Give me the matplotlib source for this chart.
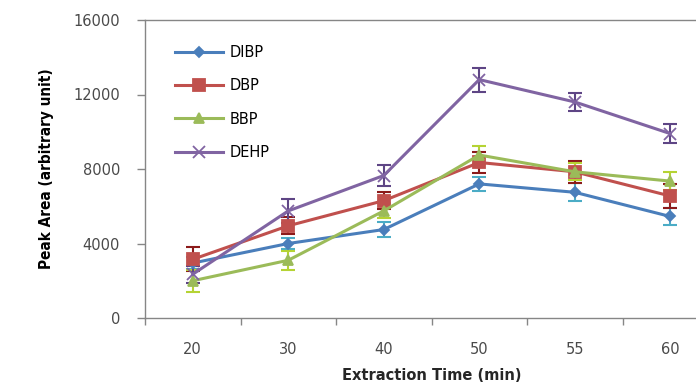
import matplotlib.pyplot as plt
import numpy as np

times = ["20", "30", "40", "50", "55", "60"]
dibp = [2950, 4000, 4750, 7200, 6750, 5450]
dibp_err = [300, 300, 380, 380, 480, 460]
dbp = [3150, 4950, 6300, 8350, 7850, 6550]
dbp_err = [650, 450, 450, 550, 600, 650]
bbp = [2000, 3100, 5750, 8750, 7850, 7350]
bbp_err = [600, 520, 400, 480, 450, 470]
dehp = [2350, 5750, 7650, 12800, 11600, 9900]
dehp_err = [450, 640, 540, 640, 480, 530]

series = [
    ("DIBP", dibp, dibp_err, "#4A7EBB", "#4BACC6", "D", 5),
    ("DBP", dbp, dbp_err, "#C0504D", "#8B1A1A", "s", 8),
    ("BBP", bbp, bbp_err, "#9BBB59", "#B5D334", "^", 7),
    ("DEHP", dehp, dehp_err, "#8064A2", "#5E4585", "x", 8),
]

fig = plt.figure(figsize=(6.96, 3.87), dpi=100)
ax = fig.add_axes([145 / 696, 69 / 387, 573 / 696, 298 / 387])
x = np.arange(len(times))

for name, vals, err, col, ecol, mk, ms in series:
    ax.errorbar(x, vals, yerr=err, fmt="none", ecolor=ecol, elinewidth=1.5,
                capsize=5, capthick=1.5, zorder=2)
    ax.plot(x, vals, color=col, lw=2.2, marker=mk, ms=ms, mfc=col, mec=col,
            mew=1.3, label=name, zorder=3)

ax.set_xlim(-0.5, len(times) - 0.5)
ax.set_ylim(0, 16000)
ax.set_yticks([0, 4000, 8000, 12000, 16000])
ax.set_xticks(x)
ax.set_xticklabels(times)
ax.set_xticks(np.arange(-0.5, len(times), 1), minor=True)
ax.tick_params(axis="x", which="major", length=0, pad=17)
ax.tick_params(axis="x", which="minor", length=5, color="#868686", width=1)
ax.tick_params(axis="y", length=6, color="#868686", width=1, pad=12)
ax.tick_params(labelsize=10.5, labelcolor="#4a4a4a")
for s in ax.spines.values():
    s.set_color("#868686")
    s.set_linewidth(1)

ax.set_ylabel("Peak Area (arbitrary unit)", fontsize=11, fontweight="bold",
              fontstretch="condensed", labelpad=14)
ax.set_xlabel("Extraction Time (min)", fontsize=10.5, fontweight="bold",
              color="#262626", labelpad=8)

leg = ax.legend(loc="upper left", bbox_to_anchor=(0.03, 0.96), frameon=False,
                fontsize=10.5, labelspacing=1.25, handlelength=3.3,
                handletextpad=0.4)

fig.savefig("out.png", dpi=100)
